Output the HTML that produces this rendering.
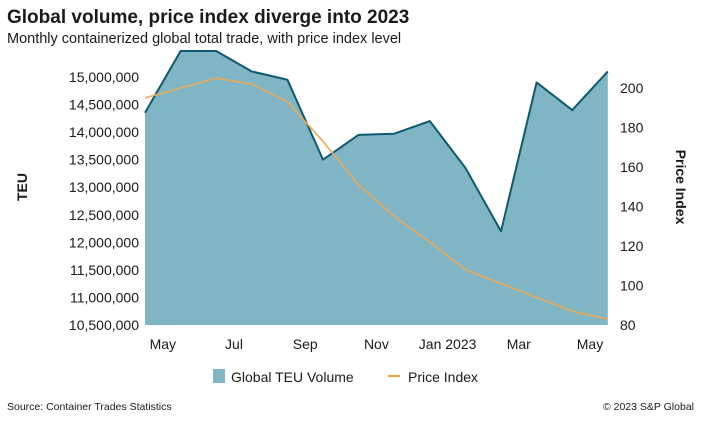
<!DOCTYPE html>
<html><head><meta charset="utf-8"><style>
body{margin:0;background:#fff;font-family:"Liberation Sans",sans-serif;}
svg text{font-family:"Liberation Sans",sans-serif;fill:#1a1a1a;}
</style></head><body>
<svg width="701" height="417" xmlns="http://www.w3.org/2000/svg">
<text x="7" y="23" font-size="19" font-weight="bold">Global volume, price index diverge into 2023</text>
<text x="7" y="43" font-size="14.5">Monthly containerized global total trade, with price index level</text>
<g id="plot"></g>
<text transform="translate(27,187) rotate(-90)" text-anchor="middle" font-size="14" font-weight="bold">TEU</text>
<text transform="translate(676,187) rotate(90)" text-anchor="middle" font-size="14" font-weight="bold">Price Index</text>
<g>
<rect x="213" y="369" width="12" height="14" fill="#7fb5c4"/>
<text x="231" y="382" font-size="14">Global TEU Volume</text>
<line x1="388" y1="376" x2="400" y2="376" stroke="#f0a640" stroke-width="2"/>
<text x="408" y="382" font-size="14">Price Index</text>
</g>
<text x="7" y="410" font-size="10.5">Source: Container Trades Statistics</text>
<text x="694" y="410" font-size="10.5" text-anchor="end">© 2023 S&amp;P Global</text>
</svg>
<script>
const volume=[14350000,15500000,15500000,15100000,14950000,13500000,13950000,13970000,14200000,13350000,12200000,14900000,14400000,15100000];
const priceIndex=[195,200,205,202,193,173,151,135,122,108,101,94,87,83];
const xLabels=["May","Jul","Sep","Nov","Jan 2023","Mar","May"];
const leftTicks=[10500000,11000000,11500000,12000000,12500000,13000000,13500000,14000000,14500000,15000000];
const rightTicks=[80,100,120,140,160,180,200];
const NS="http://www.w3.org/2000/svg";
const g=document.getElementById('plot');
const x=i=>145+i*35.6;
const yL=v=>325-(v-10500000)/500000*27.56;
const yR=v=>325-(v-80)/20*39.5;
function mk(t,a){const e=document.createElementNS(NS,t);for(const k in a)e.setAttribute(k,a[k]);g.appendChild(e);return e;}
const topPts=volume.map((v,i)=>x(i)+","+Math.max(51,yL(v)));
const area=mk('path',{d:"M"+x(0)+",325 L"+topPts.join(" L")+" L"+x(volume.length-1)+",325 Z",fill:'#7fb5c4'});


const edge=mk('polyline',{points:topPts.join(" "),fill:'none',stroke:'#0f5a6e','stroke-width':2,'stroke-linejoin':'round'});


const line=mk('polyline',{points:priceIndex.map((v,i)=>x(i)+","+yR(v)).join(" "),fill:'none',stroke:'#eba957','stroke-width':1.6,'stroke-linejoin':'round'});


leftTicks.forEach(v=>{const t=mk('text',{x:139,y:yL(v)+5,'text-anchor':'end','font-size':14});t.textContent=v.toLocaleString('en-US');

});
rightTicks.forEach(v=>{const t=mk('text',{x:620,y:yR(v)+5,'font-size':14});t.textContent=v;

});
xLabels.forEach((s,k)=>{const t=mk('text',{x:x(0.5+2*k),y:349,'text-anchor':'middle','font-size':14});t.textContent=s;

});
</script>
</body></html>
